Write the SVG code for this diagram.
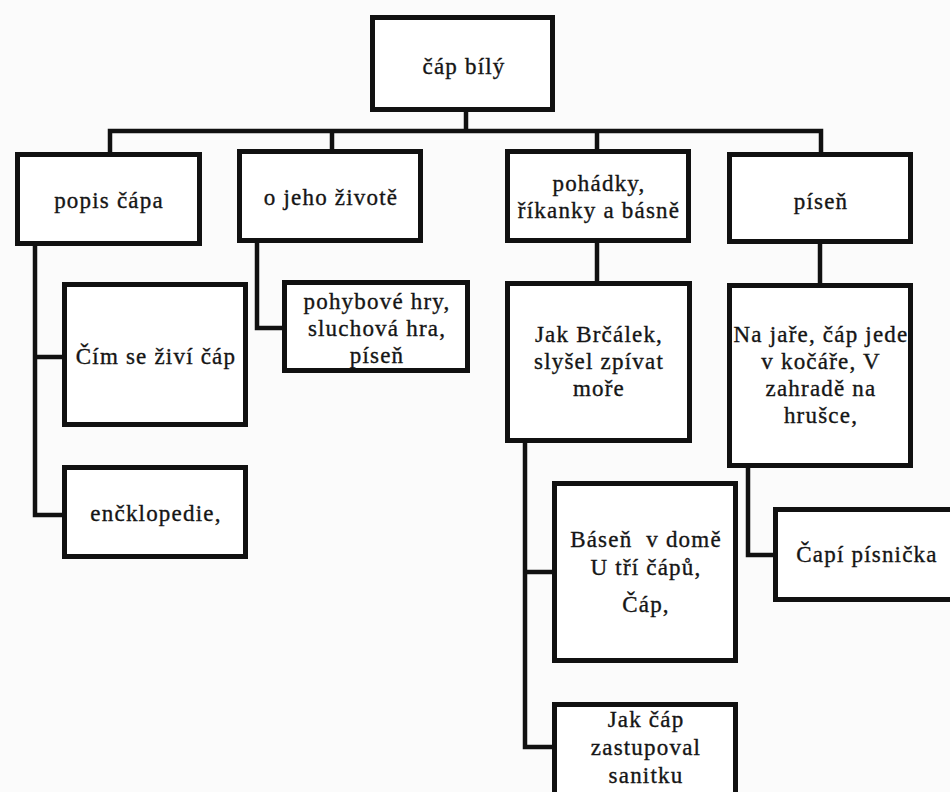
<svg xmlns="http://www.w3.org/2000/svg" width="950" height="792" viewBox="0 0 950 792">
<style>
.box{fill:#fff;stroke:#111;stroke-width:5}
.ln{fill:none;stroke:#111;stroke-width:4.5;stroke-linejoin:miter;stroke-linecap:square}
.t{font-size:23px;letter-spacing:1.2px;fill:#151515;stroke:#151515;stroke-width:0.35;text-anchor:middle}
</style>
<rect width="950" height="792" fill="#fbfbfb"/>
<g id="connectors">
<path class="ln" d="M466 112V131M110 152V131H821V152M332 131V149M597 131V149"/>
<path class="ln" d="M35 246V515H62M35 357H62"/>
<path class="ln" d="M257 243V328H282"/>
<path class="ln" d="M597 243V281"/>
<path class="ln" d="M525 443V747H552M525 572H552"/>
<path class="ln" d="M820 244V283"/>
<path class="ln" d="M748 468V555H773"/>
</g>
<g class="t" font-family="Liberation Serif, Times New Roman, serif">
<g id="root"><rect class="box" x="372.5" y="17.5" width="180" height="92"/><text font-family="Liberation Serif" x="464" y="74">čáp bílý</text></g>
<g id="popis"><rect class="box" x="17.5" y="154.5" width="182" height="89"/><text font-family="Liberation Serif" x="109" y="208">popis čápa</text></g>
<g id="zivot"><rect class="box" x="239.5" y="151.5" width="181" height="89"/><text font-family="Liberation Serif" x="331" y="205">o jeho životě</text></g>
<g id="pohadky"><rect class="box" x="507.5" y="151.5" width="181" height="89"/><text font-family="Liberation Serif" x="599" y="191">pohádky,</text><text font-family="Liberation Serif" x="599" y="218">říkanky a básně</text></g>
<g id="pisen"><rect class="box" x="729.5" y="154.5" width="181" height="87"/><text font-family="Liberation Serif" x="821" y="209">píseň</text></g>
<g id="cim"><rect class="box" x="64.5" y="284.5" width="181" height="140"/><text font-family="Liberation Serif" x="156" y="364">Čím se živí čáp</text></g>
<g id="encyklopedie"><rect class="box" x="64.5" y="467.5" width="181" height="89"/><text font-family="Liberation Serif" x="156" y="521">enčklopedie,</text></g>
<g id="hry"><rect class="box" x="284.5" y="282.5" width="183" height="88"/><text font-family="Liberation Serif" x="377" y="309">pohybové hry,</text><text font-family="Liberation Serif" x="377" y="336">sluchová hra,</text><text font-family="Liberation Serif" x="377" y="363">píseň</text></g>
<g id="brcalek"><rect class="box" x="507.5" y="283.5" width="182" height="157"/><text font-family="Liberation Serif" x="599" y="342">Jak Brčálek,</text><text font-family="Liberation Serif" x="599" y="369">slyšel zpívat</text><text font-family="Liberation Serif" x="599" y="396">moře</text></g>
<g id="najare"><rect class="box" x="729.5" y="285.5" width="181" height="180"/><text font-family="Liberation Serif" x="821" y="342">Na jaře, čáp jede</text><text font-family="Liberation Serif" x="821" y="369">v kočáře, V</text><text font-family="Liberation Serif" x="821" y="396">zahradě na</text><text font-family="Liberation Serif" x="821" y="423">hrušce,</text></g>
<g id="basen"><rect class="box" x="554.5" y="483.5" width="181" height="177"/><text font-family="Liberation Serif" x="646" y="547">Báseň&#160; v domě</text><text font-family="Liberation Serif" x="646" y="575">U tří čápů,</text><text font-family="Liberation Serif" x="646" y="612">Čáp,</text></g>
<g id="jakcap"><rect class="box" x="554.5" y="704.5" width="181" height="100"/><text font-family="Liberation Serif" x="646" y="727">Jak čáp</text><text font-family="Liberation Serif" x="646" y="755">zastupoval</text><text font-family="Liberation Serif" x="646" y="783">sanitku</text></g>
<g id="capi"><rect class="box" x="775.5" y="509.5" width="190" height="90"/><text font-family="Liberation Serif" x="867" y="562">Čapí písnička</text></g>
</g>
</svg>
